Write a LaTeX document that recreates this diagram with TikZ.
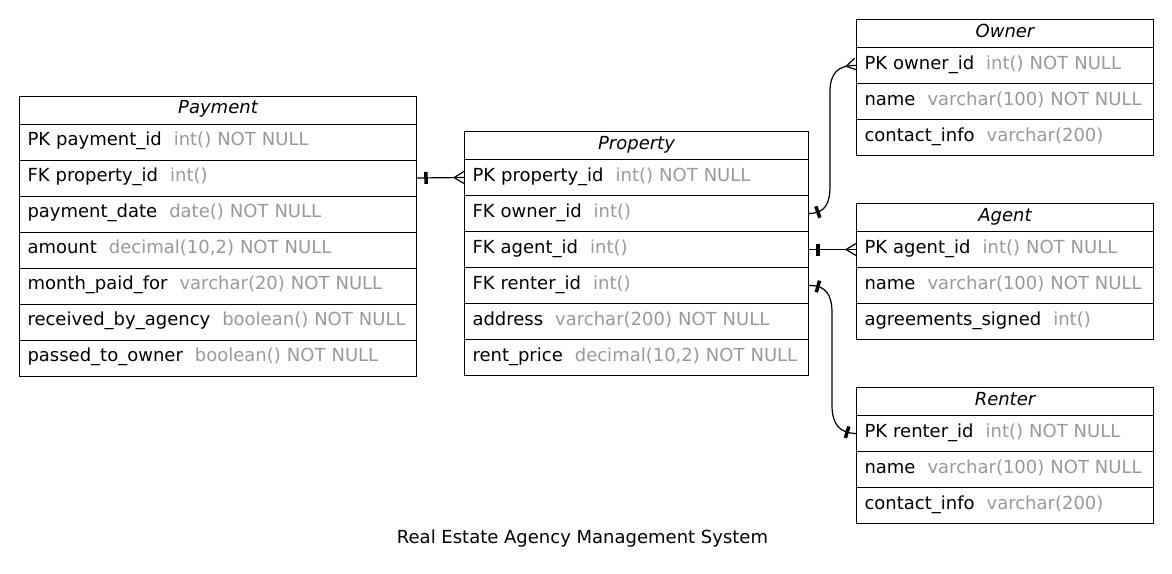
\documentclass[tikz,border=0pt]{standalone}
\usepackage{fontspec}
\setmainfont{DejaVu Sans}
\usetikzlibrary{decorations.markings}
\definecolor{tgray}{RGB}{153,153,153}
\newcommand{\fld}[2]{\mbox{#1 \hspace{6pt}\textcolor{tgray}{#2}}}
\tikzset{
  cell/.style={draw, line width=1pt, inner ysep=0pt, inner xsep=8pt, anchor=north west,
    minimum height=36, text height=12, text depth=5, align=left,
    font=\fontsize{18}{22}\selectfont},
  ttl/.style={cell, minimum height=28, align=center, font=\fontsize{18}{22}\selectfont\itshape},
  wpay/.style={minimum width=397, text width=381},
  wprop/.style={minimum width=344, text width=328},
  wsm/.style={minimum width=297, text width=281},
  conn/.style={line width=1.2pt},
  tee start/.style={postaction={decorate, decoration={markings,
    mark=at position 9pt with {\draw[line width=3.5pt] (0pt,-6pt) -- (0pt,6pt);}}}},
  tee end/.style={postaction={decorate, decoration={markings,
    mark=at position -9pt with {\draw[line width=3.5pt] (0pt,-6pt) -- (0pt,6pt);}}}},
  crow end/.style={postaction={decorate, decoration={markings,
    mark=at position -10pt with {\draw[line width=1.2pt] (10pt,6pt) -- (0pt,0pt) -- (10pt,-6pt);}}}},
}
\begin{document}
\begin{tikzpicture}[x=1pt, y=-1pt]
\useasboundingbox (0,0) rectangle (1172,573);

% Payment
\node[ttl, wpay] (pay0) at (19,95.5) {Payment};
\node[cell, wpay] (pay1) at (19,123.5) {\fld{PK payment\_id}{int() NOT NULL}};
\node[cell, wpay] (pay2) at (19,159.5) {\fld{FK property\_id}{int()}};
\node[cell, wpay] (pay3) at (19,195.5) {\fld{payment\_date}{date() NOT NULL}};
\node[cell, wpay] (pay4) at (19,231.5) {\fld{amount}{decimal(10,2) NOT NULL}};
\node[cell, wpay] (pay5) at (19,267.5) {\fld{month\_paid\_for}{varchar(20) NOT NULL}};
\node[cell, wpay] (pay6) at (19,303.5) {\fld{received\_by\_agency}{boolean() NOT NULL}};
\node[cell, wpay] (pay7) at (19,339.5) {\fld{passed\_to\_owner}{boolean() NOT NULL}};

% Property
\node[ttl, wprop] (prop0) at (464,131) {Property};
\node[cell, wprop] (prop1) at (464,159) {\fld{PK property\_id}{int() NOT NULL}};
\node[cell, wprop] (prop2) at (464,195) {\fld{FK owner\_id}{int()}};
\node[cell, wprop] (prop3) at (464,231) {\fld{FK agent\_id}{int()}};
\node[cell, wprop] (prop4) at (464,267) {\fld{FK renter\_id}{int()}};
\node[cell, wprop] (prop5) at (464,303) {\fld{address}{varchar(200) NOT NULL}};
\node[cell, wprop] (prop6) at (464,339) {\fld{rent\_price}{decimal(10,2) NOT NULL}};

% Owner
\node[ttl, wsm] (own0) at (856,19) {Owner};
\node[cell, wsm] (own1) at (856,47) {\fld{PK owner\_id}{int() NOT NULL}};
\node[cell, wsm] (own2) at (856,83) {\fld{name}{varchar(100) NOT NULL}};
\node[cell, wsm] (own3) at (856,119) {\fld{contact\_info}{varchar(200)}};

% Agent
\node[ttl, wsm] (agt0) at (856,203) {Agent};
\node[cell, wsm] (agt1) at (856,231) {\fld{PK agent\_id}{int() NOT NULL}};
\node[cell, wsm] (agt2) at (856,267) {\fld{name}{varchar(100) NOT NULL}};
\node[cell, wsm] (agt3) at (856,303) {\fld{agreements\_signed}{int()}};

% Renter
\node[ttl, wsm] (ren0) at (856,387) {Renter};
\node[cell, wsm] (ren1) at (856,415) {\fld{PK renter\_id}{int() NOT NULL}};
\node[cell, wsm] (ren2) at (856,451) {\fld{name}{varchar(100) NOT NULL}};
\node[cell, wsm] (ren3) at (856,487) {\fld{contact\_info}{varchar(200)}};

% Connectors
\draw[conn, tee start, crow end] (pay2.east) -- (prop1.west);
\draw[conn, tee start, crow end] (prop2.east) .. controls (826,213) and (830,203) .. (830,185)
  -- (830,92) .. controls (830,73) and (838,65) .. (own1.west);
\draw[conn, tee start, crow end] (prop3.east) -- (agt1.west);
\draw[conn, tee start, tee end] (prop4.east) .. controls (826,285) and (832,295) .. (832,313)
  -- (832,405) .. controls (832,425) and (840,433) .. (ren1.west);

% Caption
\node[anchor=base, font=\fontsize{18}{22}\selectfont] (cap) at (582.5,543) {Real Estate Agency Management System};
\end{tikzpicture}
\end{document}
